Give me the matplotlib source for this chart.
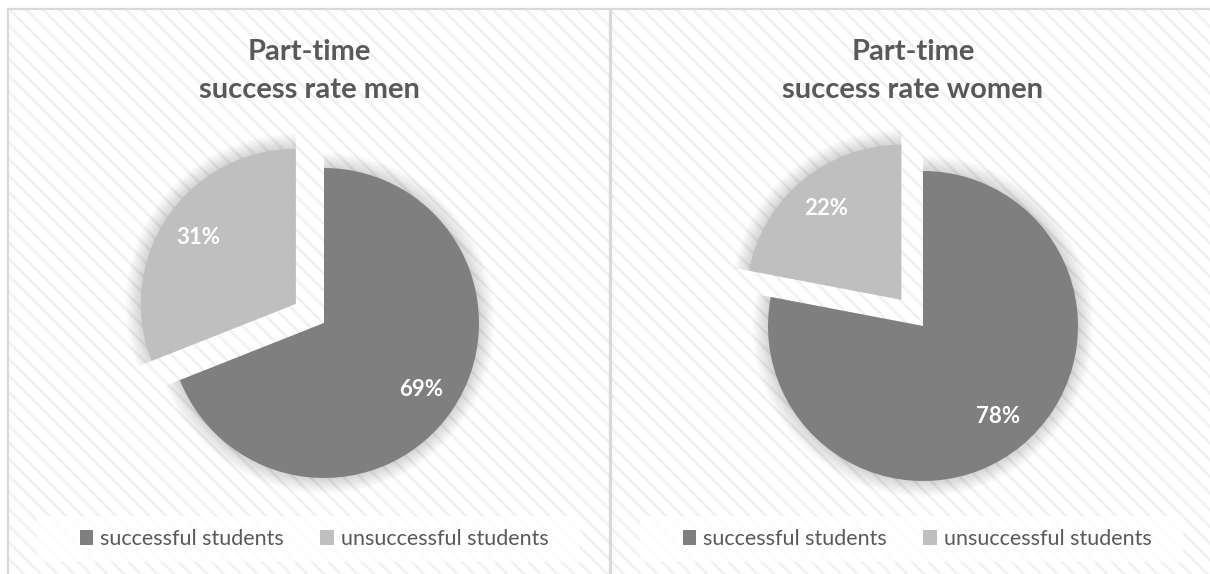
import matplotlib.pyplot as plt
from matplotlib.patches import Rectangle, Wedge

plt.rcParams['font.family'] = ['Lato', 'DejaVu Sans']
plt.rcParams['hatch.linewidth'] = 1.9

labels = ['successful students', 'unsuccessful students']
titles = ['Part-time\nsuccess rate men', 'Part-time\nsuccess rate women']
men = [69, 31]
women = [78, 22]
colors = ['#7f7f7f', '#bfbfbf']
text_grey = '#595959'

W, H = 1210, 574
fig = plt.figure(figsize=(W / 100, H / 100), dpi=100)


def box(x0, y0, x1, y1, **kw):
    # rectangle given in pixels from the top-left corner
    r = Rectangle((x0 / W, 1 - y1 / H), (x1 - x0) / W, (y1 - y0) / H,
                  transform=fig.transFigure, **kw)
    fig.add_artist(r)
    return r


def panel(left, right, cx, cy, values, title):
    # striped background + thin border
    box(left, 9, right, 590, facecolor='white', edgecolor='#f1f1f1',
        hatch='\\\\', lw=0, zorder=0)
    box(left, 9, right, 590, fill=False, edgecolor='#d9d9d9', lw=1.6, zorder=1)
    # white strip behind the legend
    box(left + 29, 516, left + 572, 562, facecolor='white', alpha=0.8,
        lw=0, zorder=1)

    mid = (left + right) / 2
    line1, line2 = title.split('\n')
    fig.text(mid / W, 1 - 60 / H, line1, ha='center', va='baseline',
             fontsize=21, fontweight='bold', color=text_grey)
    fig.text(mid / W, 1 - 98 / H, line2, ha='center', va='baseline',
             fontsize=21, fontweight='bold', color=text_grey)

    R = 155
    ax = fig.add_axes([(cx - 1.5 * R) / W, (H - cy - 1.5 * R) / H,
                       3 * R / W, 3 * R / H])
    wedges, _, autotexts = ax.pie(values, colors=colors, startangle=90,
                                  counterclock=False, explode=[0, 0.22],
                                  autopct=lambda p: '%.0f%%' % p,
                                  pctdistance=0.76,
                                  wedgeprops=dict(lw=0))
    for t in autotexts:
        t.set_color('white')
        t.set_fontsize(16)
        t.set_fontweight('bold')

    # soft shadow around each slice
    for w in wedges:
        for i in range(1, 11):
            ax.add_patch(Wedge(w.center, w.r + 0.01 * i, w.theta1, w.theta2,
                               facecolor='black', alpha=0.014, lw=0,
                               zorder=0.5))

    ax.set_xlim(-1.5, 1.5)
    ax.set_ylim(-1.5, 1.5)
    ax.axis('off')

    fig.legend(wedges, labels, loc='center',
               bbox_to_anchor=((left + 306) / W, 1 - 539 / H),
               ncol=2, frameon=False, fontsize=15.5, labelcolor=text_grey,
               handlelength=0.65, handleheight=0.65, handletextpad=0.3,
               columnspacing=1.7, borderpad=0)


panel(8, 610, 324, 323, men, titles[0])
panel(611, 1215, 923, 326, women, titles[1])

fig.savefig('out.png', dpi=100, facecolor='white')
